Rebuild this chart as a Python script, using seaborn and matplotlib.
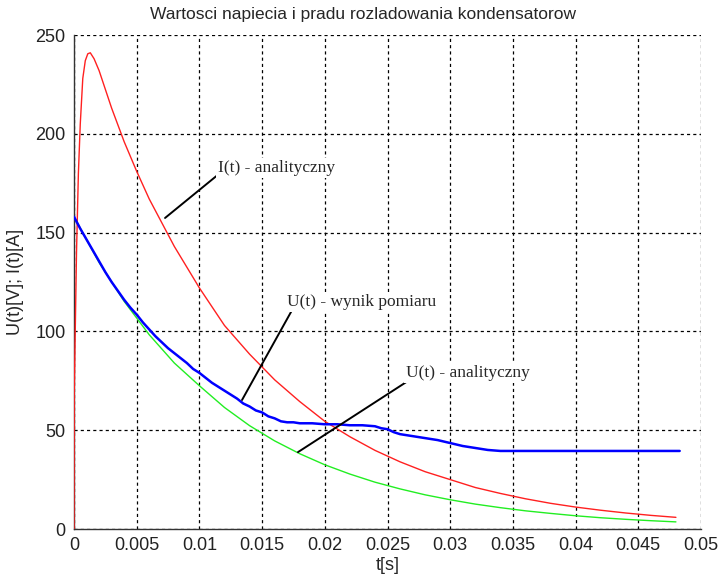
import matplotlib
matplotlib.use("Agg")
import matplotlib.pyplot as plt
import seaborn as sns
import pandas as pd

# ---- data ----
t_I = [0.0, 0.00002, 0.0002, 0.00035, 0.0005, 0.0007, 0.0009, 0.0011, 0.0013, 0.0016,
       0.002, 0.003, 0.004, 0.005, 0.006, 0.008, 0.010, 0.012, 0.014, 0.016, 0.018,
       0.020, 0.022, 0.024, 0.026, 0.028, 0.030, 0.032, 0.034, 0.036, 0.038, 0.040,
       0.042, 0.044, 0.046, 0.048]
I_analit = [0, 69, 140, 180, 205, 228, 237, 240.5, 241, 238,
            232, 213, 196, 181, 167, 143, 122, 103, 88.5, 75.5, 64.5,
            54.5, 46.7, 39.8, 34, 29, 25, 21, 18, 15.3, 13, 11.1,
            9.5, 8.1, 6.9, 5.9]

t_U = [0.0, 0.002, 0.004, 0.006, 0.008, 0.010, 0.012, 0.014, 0.016, 0.018, 0.020,
       0.022, 0.024, 0.026, 0.028, 0.030, 0.032, 0.034, 0.036, 0.038, 0.040, 0.042,
       0.044, 0.046, 0.048]
U_analit = [158, 134.9, 115.2, 98.3, 84.0, 72.5, 61.5, 52.3, 44.6, 38.1, 32.5,
            27.8, 23.7, 20.3, 17.3, 14.8, 12.6, 10.8, 9.2, 7.9, 6.7, 5.7,
            4.9, 4.2, 3.6]

t_meas = [0.0, 0.0005, 0.001, 0.0015, 0.002, 0.0025, 0.003, 0.0035, 0.004, 0.0045,
          0.005, 0.0055, 0.006, 0.0065, 0.007, 0.0075, 0.008, 0.0085, 0.009, 0.0095,
          0.010, 0.0105, 0.011, 0.0115, 0.012, 0.0125, 0.013, 0.0135, 0.014, 0.0145,
          0.015, 0.0155, 0.016, 0.0165, 0.017, 0.0175, 0.018, 0.019, 0.020, 0.021,
          0.022, 0.023, 0.024, 0.0245, 0.025, 0.0255, 0.026, 0.027, 0.028, 0.029,
          0.030, 0.031, 0.032, 0.033, 0.034, 0.036, 0.0375, 0.038, 0.040, 0.042,
          0.044, 0.046, 0.048, 0.0483]
U_meas = [158, 152, 146.5, 141, 135.5, 130, 125, 120.5, 116, 112,
          108.5, 104.5, 101, 97.5, 94.5, 91.5, 89, 86.5, 84, 81,
          79, 76.5, 74, 72, 70, 68, 66, 63.5, 62, 60,
          59, 57, 56, 54.5, 54, 54, 53.5, 53.5, 53, 53,
          52.5, 52.5, 52, 51, 50.5, 49, 48, 47, 46, 45,
          43.5, 42, 41, 40, 39.5, 39.5, 39.5, 39.5, 39.5, 39.5,
          39.5, 39.5, 39.5, 39.5]

x_ticks = [0, 0.005, 0.01, 0.015, 0.02, 0.025, 0.03, 0.035, 0.04, 0.045, 0.05]
x_tick_labels = ["0", "0.005", "0.01", "0.015", "0.02", "0.025", "0.03",
                 "0.035", "0.04", "0.045", "0.05"]
y_ticks = [0, 50, 100, 150, 200, 250]

title = "Wartosci napiecia i pradu rozladowania kondensatorow"
xlabel = "t[s]"
ylabel = "U(t)[V]; I(t)[A]"

# ---- plotting ----
sns.set_style("white")
plt.rcParams["font.family"] = ["Liberation Sans", "DejaVu Sans"]

fig = plt.figure(figsize=(7.2, 5.81), dpi=100)
ax = fig.add_axes([74/720, 52/581, 627/720, 494/581])

df_I = pd.DataFrame({"t": t_I, "v": I_analit})
df_U = pd.DataFrame({"t": t_U, "v": U_analit})
df_M = pd.DataFrame({"t": t_meas, "v": U_meas})

sns.lineplot(data=df_I, x="t", y="v", ax=ax, color="#ff2020", lw=1.0, zorder=3)
sns.lineplot(data=df_U, x="t", y="v", ax=ax, color="#22ee22", lw=1.0, zorder=3)
sns.lineplot(data=df_M, x="t", y="v", ax=ax, color="#0000ff", lw=1.8, zorder=4)

ax.set_xlim(0, 0.05)
ax.set_ylim(0, 250)
ax.set_xticks(x_ticks)
ax.set_xticklabels(x_tick_labels)
ax.set_yticks(y_ticks)
ax.tick_params(direction="in", length=5, width=1, labelsize=13, colors="#222222",
               pad=6)
for lbl in ax.get_xticklabels() + ax.get_yticklabels():
    lbl.set_color("#222222")

ax.grid(True, color="black", linestyle=(0, (2.5, 2.5)), linewidth=0.9)
for s in ["top", "right"]:
    ax.spines[s].set_visible(False)
for s in ["left", "bottom"]:
    ax.spines[s].set_color("#333333")
    ax.spines[s].set_linewidth(1.0)
    ax.spines[s].set_zorder(2)

ax.set_xlabel(xlabel, fontsize=13, labelpad=2)
ax.set_ylabel(ylabel, fontsize=13, labelpad=8)

fig.text(363/720, 1 - 15/581, title, ha="center", va="center", fontsize=12.5,
         family=["Liberation Sans Narrow", "Liberation Sans", "DejaVu Sans"])

# annotations (positions in data coords)
ann_font = dict(fontsize=12.5, family=["Liberation Serif", "DejaVu Serif"])
annots = [
    ("I(t) - analityczny", (0.00726, 157.4), (0.01164, 180.1), (0.01148, 182.7)),
    ("U(t) - wynik pomiaru", (0.01340, 65.3), (0.01739, 110.8), (0.01699, 114.9)),
    ("U(t) - analityczny", (0.01786, 38.9), (0.02663, 74.9), (0.02648, 78.9)),
]
for txt, p0, p1, tp in annots:
    ax.plot([p0[0], p1[0]], [p0[1], p1[1]], color="black", lw=1.4, zorder=5)
    ax.text(tp[0], tp[1], txt, ha="left", va="center", zorder=6,
            bbox=dict(facecolor="white", edgecolor="none", pad=1.5), **ann_font)

fig.savefig("out.png", dpi=100)
